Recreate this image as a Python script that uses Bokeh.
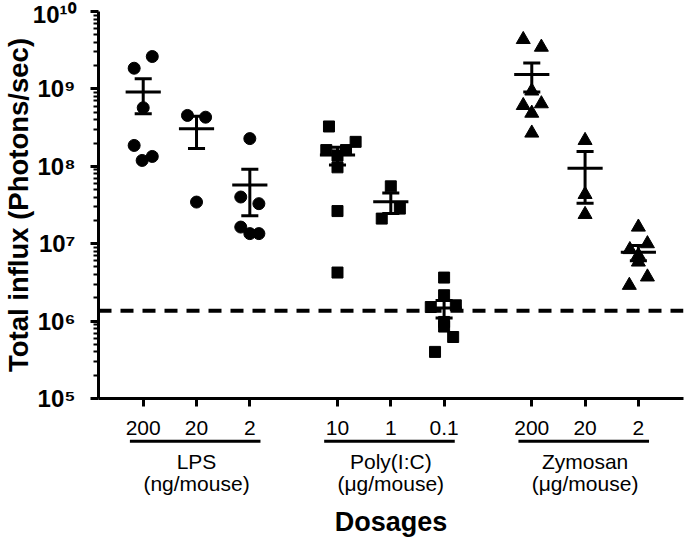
import numpy as np
from bokeh.plotting import figure
from bokeh.models import FixedTicker, Span
from bokeh.core.properties import value
from bokeh.embed import file_html
from bokeh.resources import INLINE

# ---------------- data ----------------
group_names = ["LPS", "Poly(I:C)", "Zymosan"]
group_units = ["(ng/mouse)", "(μg/mouse)", "(μg/mouse)"]
group_markers = ["circle", "square", "triangle"]
dose_labels = ["200", "20", "2", "10", "1", "0.1", "200", "20", "2"]

lps_200 = [2.62e9, 1.85e9, 5.71e8, 1.86e8, 1.34e8, 1.19e8]
lps_200_dx = [0.17, -0.17, 0.0, -0.17, 0.17, -0.02]
lps_20 = [4.54e8, 4.31e8, 3.45e7]
lps_20_dx = [-0.17, 0.17, 0.0]
lps_2 = [2.28e8, 4.01e7, 3.29e7, 1.64e7, 1.35e7, 1.35e7]
lps_2_dx = [0.0, -0.17, 0.17, -0.17, 0.0, 0.17]

poly_10 = [3.27e8, 2.07e8, 1.62e8, 1.62e8, 1.38e8, 9.7e7, 2.64e7, 4.24e6]
poly_10_dx = [-0.16, 0.34, -0.21, 0.16, 0.0, 0.0, 0.0, 0.0]
poly_1 = [5.51e7, 2.84e7, 2.11e7]
poly_1_dx = [0.0, 0.17, -0.17]
poly_01 = [3.65e6, 2.16e6, 1.52e6, 1.60e6, 9.75e5, 8.5e5, 6.23e5, 4.0e5]
poly_01_dx = [0.0, 0.0, -0.25, 0.22, 0.0, 0.0, 0.17, -0.17]

zym_200 = [4.35e9, 3.46e9, 9.4e8, 6.43e8, 6.11e8, 4.86e8, 2.69e8]
zym_200_dx = [-0.16, 0.18, 0.0, 0.18, -0.16, 0.0, 0.0]
zym_20 = [2.16e8, 4.33e7, 2.39e7]
zym_20_dx = [0.0, 0.0, 0.0]
zym_2 = [1.64e7, 1.00e7, 8.4e6, 7.08e6, 5.8e6, 3.72e6, 2.90e6]
zym_2_dx = [0.0, 0.17, -0.16, 0.0, 0.0, 0.17, -0.17]

series = [(lps_200, lps_200_dx), (lps_20, lps_20_dx), (lps_2, lps_2_dx),
          (poly_10, poly_10_dx), (poly_1, poly_1_dx), (poly_01, poly_01_dx),
          (zym_200, zym_200_dx), (zym_20, zym_20_dx), (zym_2, zym_2_dx)]

threshold = 1.36e6

y_ticks = [1e5, 1e6, 1e7, 1e8, 1e9, 1e10]
y_tick_labels = ["10⁵", "10⁶", "10⁷", "10⁸", "10⁹", "10¹⁰"]
y_title = "Total influx (Photons/sec)"
x_title = "Dosages"

# ---------------- layout ----------------
W, H = 685, 539
ML, MR, MT, MB = 98, 2, 11, 141
FRAME_H = H - MT - MB
UNIT_PX = 53.3
GROUP_STRIDE = 3.645
x_start = -0.839
x_end = x_start + (W - ML - MR) / UNIT_PX
FONT = "Liberation Sans"

xpos = [g * GROUP_STRIDE + i for g in range(3) for i in range(3)]


def below(px):
    # data y value lying px pixels below the x axis (log scale, 5 decades)
    return 10 ** (5 - px * 5.0 / FRAME_H)


p = figure(width=W, height=H, y_axis_type="log",
           x_range=(x_start, x_end), y_range=(1e5, 1e10),
           output_backend="svg", toolbar_location=None,
           min_border_left=ML, min_border_right=MR,
           min_border_top=MT, min_border_bottom=MB)
p.outline_line_color = None
p.xgrid.visible = False
p.ygrid.visible = False
p.background_fill_color = "white"

# y axis
minor = [m * 10 ** d for d in range(5, 10) for m in range(2, 10)]
p.yaxis.ticker = FixedTicker(ticks=y_ticks, minor_ticks=minor)
p.yaxis.major_label_overrides = {t: l for t, l in zip(y_ticks, y_tick_labels)}
p.yaxis.axis_line_width = 3
p.yaxis.major_tick_line_width = 3
p.yaxis.minor_tick_line_width = 2
p.yaxis.major_tick_out = 8
p.yaxis.major_tick_in = 0
p.yaxis.minor_tick_out = 5
p.yaxis.minor_tick_in = 0
p.yaxis.major_label_text_font = FONT
p.yaxis.major_label_text_font_style = "bold"
p.yaxis.major_label_text_font_size = "24px"
p.yaxis.major_label_text_color = "black"
p.yaxis.major_label_standoff = 15

# x axis
p.xaxis.ticker = FixedTicker(ticks=xpos, minor_ticks=[])
p.xaxis.major_label_overrides = {x: l for x, l in zip(xpos, dose_labels)}
p.xaxis.axis_line_width = 3
p.xaxis.major_tick_line_width = 3
p.xaxis.major_tick_out = 8
p.xaxis.major_tick_in = 0
p.xaxis.major_label_text_font = FONT
p.xaxis.major_label_text_font_size = "21px"
p.xaxis.major_label_text_color = "black"
p.xaxis.major_label_standoff = 14

# threshold dashed line
p.add_layout(Span(location=threshold, dimension="width", line_color="black",
                  line_width=4, line_dash="13 9"))

# points
for k, (vals, dx) in enumerate(series):
    x = np.array(xpos[k]) + np.array(dx)
    mk = group_markers[k // 3]
    size = {"circle": 12, "square": 11, "triangle": 14}[mk]
    p.scatter(x=x, y=vals, marker=mk, size=size, color="black")

# mean +/- SEM
means = np.array([np.mean(v) for v, _ in series])
sems = np.array([np.std(v, ddof=1) / np.sqrt(len(v)) for v, _ in series])
xp = np.array(xpos)
p.segment(x0=xp - 0.33, x1=xp + 0.33, y0=means, y1=means, line_color="black", line_width=3)
p.segment(x0=xp, x1=xp, y0=means - sems, y1=means + sems, line_color="black", line_width=3)
p.segment(x0=xp - 0.16, x1=xp + 0.16, y0=means + sems, y1=means + sems, line_color="black", line_width=3)
p.segment(x0=xp - 0.16, x1=xp + 0.16, y0=means - sems, y1=means - sems, line_color="black", line_width=3)

# y axis title (rotated text left of the tick labels)
p.text(x=[x_start], y=[10 ** 7.5], text=[y_title], x_offset=-80, angle=np.pi / 2,
       text_font=value(FONT), text_font_size="27.5px", text_font_style="bold",
       text_align="center", text_baseline="middle", text_color="black", level="overlay")

# group underlines and labels below the axis
gfirst = np.array([xpos[3 * g] for g in range(3)])
glast = np.array([xpos[3 * g + 2] for g in range(3)])
gmid = (gfirst + glast) / 2
yu = below(42.7)
p.segment(x0=gfirst - 0.25, x1=glast + 0.2, y0=[yu] * 3, y1=[yu] * 3,
          line_color="black", line_width=3, level="overlay")
p.text(x=gmid, y=[below(63)] * 3, text=group_names, text_font=value(FONT),
       text_font_size="21px", text_align="center", text_baseline="middle",
       text_color="black", level="overlay")
p.text(x=gmid, y=[below(85)] * 3, text=group_units, text_font=value(FONT),
       text_font_size="21px", text_align="center", text_baseline="middle",
       text_color="black", level="overlay")
p.text(x=[(x_start + x_end) / 2], y=[below(123)], text=[x_title], text_font=value(FONT),
       text_font_size="27px", text_font_style="bold", text_align="center",
       text_baseline="middle", text_color="black", level="overlay")

open("out.html", "w").write(file_html(p, INLINE))
